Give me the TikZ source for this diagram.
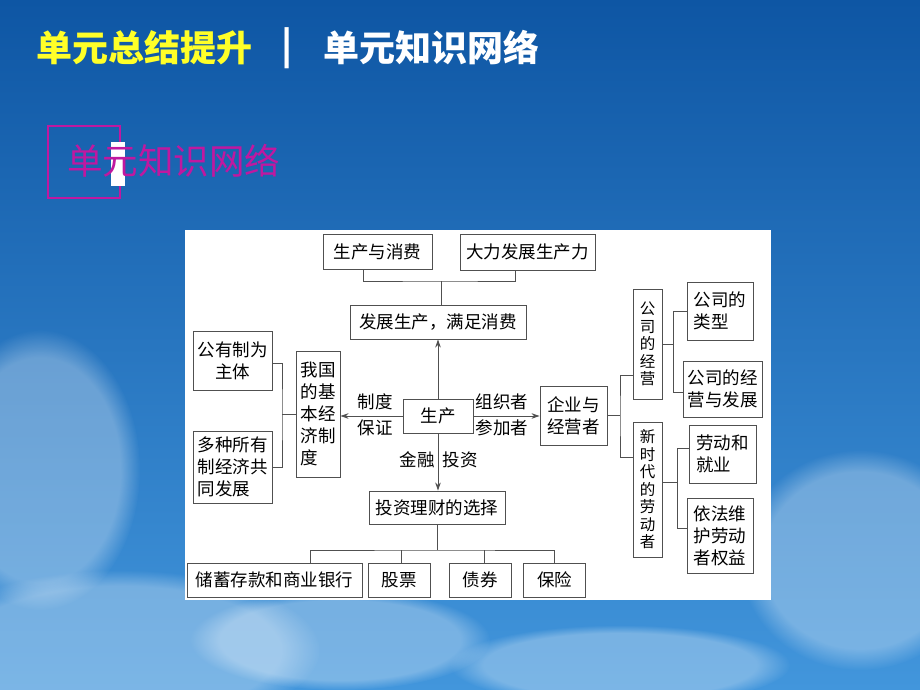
\documentclass[tikz,border=0pt]{standalone}
\usepackage{fontspec}
\usepackage{tikz}
\usetikzlibrary{arrows.meta,fadings}
\newfontfamily\cjk{Noto Sans CJK SC}
\definecolor{bgtop}{RGB}{14,86,164}
\definecolor{bgmid}{RGB}{34,118,198}
\definecolor{bgbot}{RGB}{66,150,220}
\definecolor{titleyellow}{RGB}{255,255,40}
\definecolor{unitpink}{RGB}{192,24,160}
\definecolor{edge}{RGB}{80,80,80}
\tikzset{
  box/.style={draw=edge, line width=0.9pt, fill=white, inner sep=1pt, align=center, text=black, font=\cjk\fontsize{17.5}{22}\selectfont},
  vbox/.style={box, font=\cjk\fontsize{15.5}{17.5}\selectfont},
  link/.style={draw=edge, line width=0.9pt},
  arr/.style={link, -{Stealth[length=8pt,width=5.5pt]}},
  lab/.style={inner sep=0pt, text=black, font=\cjk\fontsize{17.5}{22}\selectfont},
  ttl/.style={inner sep=0pt, anchor=west, font=\cjk\bfseries\fontsize{36}{40}\selectfont},
  puff/.style={fill=white, path fading=circle with fuzzy edge 20 percent, opacity=0.3}
}

\begin{document}
\begin{tikzpicture}[x=1pt, y=-1pt]
  \useasboundingbox (0,0) rectangle (920,690);
  \shade[top color=bgtop, middle color=bgmid, bottom color=bgbot] (0,0) rectangle (920,690);
  \fill[puff] (120,650) ellipse (200 and 80);
  \fill[puff] (340,640) ellipse (150 and 50);
  \fill[puff] (40,470) ellipse (100 and 140);
  \fill[puff] (860,560) ellipse (120 and 110);
  \fill[puff] (620,665) ellipse (170 and 40);

  \node[ttl, text=titleyellow] (unit) at (36,48) {单元总结提升};
  \node[ttl, text=white, anchor=center] (bar) at (287,48) {|};
  \node[ttl, text=white] (net) at (323,48) {单元知识网络};

  \draw[unitpink, line width=2pt] (48,126) rectangle (120,198);
  \fill[white] (111,142) rectangle (125,186);
  \node[ttl, text=unitpink, font=\cjk\fontsize{35.5}{40}\selectfont] (sub) at (67,161) {单元知识网络};

  \fill[white] (185,230) rectangle (771,600);

  \node[box, minimum width=109pt, minimum height=35pt] (prodcons) at (377.5,251.5) {生产与消费};
  \node[box, minimum width=135pt, minimum height=36pt] (boost) at (527.5,252) {大力发展生产力};
  \node[box, minimum width=176pt, minimum height=34pt] (develop) at (438,322) {发展生产，满足消费};
  \node[box, minimum width=70pt, minimum height=34pt] (produce) at (438,416) {生产};
  \node[box, minimum width=136pt, minimum height=33pt] (invest) at (437,507.5) {投资理财的选择};
  \node[box, minimum width=175pt, minimum height=34pt] (savings) at (274.5,580) {储蓄存款和商业银行};
  \node[box, minimum width=62pt, minimum height=34pt] (stocks) at (399,580) {股票};
  \node[box, minimum width=62pt, minimum height=34pt] (bonds) at (480,580) {债券};
  \node[box, minimum width=62pt, minimum height=34pt] (insure) at (554.5,580) {保险};
  \node[box, minimum width=79pt, minimum height=59pt] (public) at (232.5,360.5) {公有制为\\主体};
  \node[box, minimum width=79pt, minimum height=72pt, align=left] (mixed) at (232.5,467) {多种所有\\制经济共\\同发展};
  \node[box, minimum width=44pt, minimum height=126pt, align=left] (basic) at (318,414) {我国\\的基\\本经\\济制\\度};
  \node[box, minimum width=67pt, minimum height=59pt, align=left] (firm) at (573.5,415.5) {企业与\\经营者};
  \node[vbox, minimum width=29pt, minimum height=110pt] (company) at (647.5,344) {公\\司\\的\\经\\营};
  \node[vbox, minimum width=29pt, minimum height=135pt] (worker) at (647.5,489.5) {新\\时\\代\\的\\劳\\动\\者};
  \node[box, minimum width=66pt, minimum height=58pt, align=left] (types) at (720,311) {公司的\\类型};
  \node[box, minimum width=79pt, minimum height=56pt, align=left] (manage) at (722.5,389) {公司的经\\营与发展};
  \node[box, minimum width=67pt, minimum height=58pt, align=left] (employ) at (722.5,454) {劳动和\\就业};
  \node[box, minimum width=66pt, minimum height=75pt, align=left] (rights) at (720,535.5) {依法维\\护劳动\\者权益};

  \node[lab] (sysA) at (375,402) {制度};
  \node[lab] (sysB) at (375,428) {保证};
  \node[lab] (orgA) at (502,402) {组织者};
  \node[lab] (orgB) at (502,428) {参加者};
  \node[lab] (finA) at (417,460) {金融};
  \node[lab] (finB) at (460,460) {投资};

  \draw[arr] (produce) -- (develop);
  \draw[arr] (produce.west) -- (basic.east |- produce.west);
  \draw[arr] (produce.east) -- (firm.west |- produce.east);
  \draw[arr] (produce.south) -- (invest.north -| produce.south);

  \coordinate (topjoin) at (441,281);
  \draw[link] ([xshift=-14.5pt]prodcons.south) |- (topjoin) -| ([xshift=-12.5pt]boost.south);
  \draw[link] (topjoin) -- (develop.north -| topjoin);

  \coordinate (leftjoin) at (282,414);
  \draw[link] ([yshift=-2.5pt]public.east) -| (leftjoin) |- (mixed.east);
  \draw[link] (leftjoin) -- (basic.west);

  \coordinate (firmjoin) at (620,415.5);
  \draw[link] (firm.east) -- (firmjoin);
  \draw[link] ([yshift=-31pt]company.west) -| (firmjoin) |- ([yshift=32.5pt]worker.west);

  \coordinate (compjoin) at (673,344);
  \draw[link] (company.east) -- (compjoin);
  \draw[link] (types.west) -| (compjoin) |- ([yshift=-3pt]manage.west);

  \coordinate (workjoin) at (677,482);
  \draw[link] ([yshift=7.5pt]worker.east) -- (workjoin);
  \draw[link] ([yshift=6pt]employ.west) -| (workjoin) |- ([yshift=7.5pt]rights.west);

  \coordinate (botjoin) at (437,550);
  \coordinate (stocktop) at ([xshift=2pt]stocks.north);
  \coordinate (bondtop) at ([xshift=4pt]bonds.north);
  \draw[link] (invest.south) -- (botjoin);
  \draw[link] ([xshift=35.5pt]savings.north) |- (botjoin) -| (insure.north);
  \draw[link] (stocktop) -- (stocktop |- botjoin);
  \draw[link] (bondtop) -- (bondtop |- botjoin);
\end{tikzpicture}
\end{document}
